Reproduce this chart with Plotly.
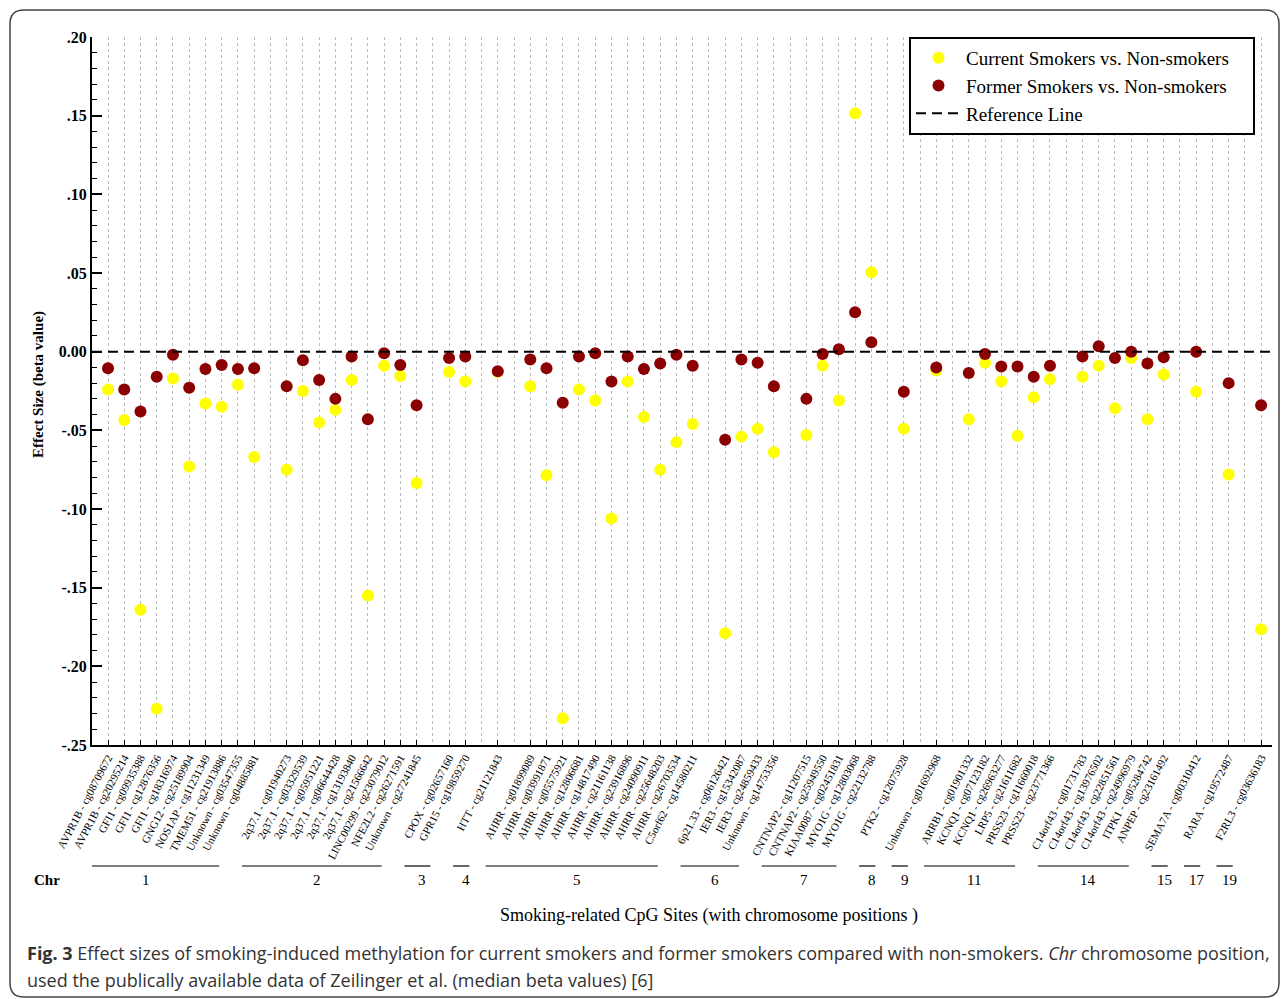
import plotly.graph_objects as go

# ---------------- data ----------------
sites = [
    "AVPR1B - cg08709672", "AVPR1B - cg20295214", "GFI1 - cg09935388", "GFI1 - cg12876356",
    "GFI1 - cg18316974", "GNG12 - cg25189904", "NOS1AP - cg11231349", "TMEM51 - cg21913886",
    "Unknown - cg03547355", "Unknown - cg04885881",
    "2q37.1 - cg01940273", "2q37.1 - cg03329539", "2q37.1 - cg05951221", "2q37.1 - cg06644428",
    "2q37.1 - cg13193840", "2q37.1 - cg21566642", "LINC00299 - cg23079012", "NFE2L2 - cg26271591",
    "Unknown - cg27241845",
    "CPOX - cg02657160", "GPR15 - cg19859270",
    "HTT - cg21121843",
    "AHRR - cg01899089", "AHRR - cg03991871", "AHRR - cg05575921", "AHRR - cg12806681",
    "AHRR - cg14817490", "AHRR - cg21161138", "AHRR - cg23916896", "AHRR - cg24090911",
    "AHRR - cg25648203", "AHRR - cg26703534", "C5orf62 - cg14580211",
    "6p21.33 - cg06126421", "IER3 - cg15342087", "IER3 - cg24859433", "Unknown - cg14753356",
    "CNTNAP2 - cg11207515", "CNTNAP2 - cg25949550", "KIAA0087 - cg02451831",
    "MYO1G - cg12803068", "MYO1G - cg22132788",
    "PTK2 - cg12075928",
    "Unknown - cg01692968",
    "ARRB1 - cg01901332", "KCNQ1 - cg07123182", "KCNQ1 - cg26963277", "LRP5 - cg21611682",
    "PRSS23 - cg11660018", "PRSS23 - cg23771366",
    "C14orf43 - cg01731783", "C14orf43 - cg13976502", "C14orf43 - cg22851561",
    "C14orf43 - cg24996979", "ITPK1 - cg05284742", "ANPEP - cg23161492",
    "SEMA7A - cg00310412",
    "RARA - cg19572487",
    "F2RL3 - cg03636183",
]
chromosomes = (["1"] * 10 + ["2"] * 9 + ["3"] * 2 + ["4"] * 1 + ["5"] * 11 + ["6"] * 4 +
               ["7"] * 5 + ["8"] + ["9"] + ["11"] * 6 + ["14"] * 6 + ["15"] + ["17"] + ["19"])

current = [
    -0.024, -0.0435, -0.164, -0.227, -0.017, -0.073, -0.033, -0.035, -0.021, -0.067,
    -0.075, -0.025, -0.045, -0.037, -0.018, -0.155, -0.009, -0.0155, -0.0835,
    -0.013, -0.019,
    -0.013,
    -0.022, -0.0785, -0.233, -0.024, -0.031, -0.106, -0.019, -0.0415, -0.075, -0.0575, -0.046,
    -0.179, -0.054, -0.049, -0.064,
    -0.053, -0.009, -0.031, 0.1515, 0.0505,
    -0.049,
    -0.012,
    -0.043, -0.007, -0.019, -0.0535, -0.029, -0.0175,
    -0.016, -0.009, -0.036, -0.004, -0.043, -0.0145,
    -0.0255,
    -0.078,
    -0.1765,
]
former = [
    -0.0105, -0.024, -0.038, -0.016, -0.002, -0.023, -0.011, -0.0085, -0.011, -0.0105,
    -0.022, -0.0055, -0.018, -0.030, -0.003, -0.043, -0.001, -0.0085, -0.034,
    -0.004, -0.003,
    -0.0125,
    -0.005, -0.0105, -0.0325, -0.003, -0.001, -0.019, -0.003, -0.011, -0.0075, -0.002, -0.009,
    -0.056, -0.005, -0.007, -0.022,
    -0.030, -0.0015, 0.0015, 0.025, 0.006,
    -0.0255,
    -0.010,
    -0.0135, -0.0015, -0.0095, -0.0095, -0.016, -0.009,
    -0.003, 0.0035, -0.004, 0.000, -0.0075, -0.0035,
    0.000,
    -0.020,
    -0.034,
]
y_tickvals = [0.20, 0.15, 0.10, 0.05, 0.0, -0.05, -0.10, -0.15, -0.20, -0.25]
y_ticktext = [".20", ".15", ".10", ".05", "0.00", "-.05", "-.10", "-.15", "-.20", "-.25"]

# ---------------- positions (one empty slot between chromosomes) ----------------
slots = []
s = 0
for i, c in enumerate(chromosomes):
    if i > 0 and c != chromosomes[i - 1]:
        s += 1
    slots.append(s)
    s += 1

groups = []
for x, c in zip(slots, chromosomes):
    if groups and groups[-1][0] == c:
        groups[-1][2] = x
    else:
        groups.append([c, x, x])

W, H = 1281, 999
L, R, T, B = 92, 1272, 37, 745
pw, ph = R - L, B - T


def px(xp):
    return (xp - L) / pw


def py(yp):
    return (B - yp) / ph


xmin = slots[0] - 0.985
xmax = slots[-1] + 0.67
serif = "Liberation Serif, Times New Roman, serif"
pad = "&nbsp;" * 4

fig = go.Figure()
fig.add_trace(go.Scatter(
    x=slots, y=current, mode="markers", name="Current Smokers vs. Non-smokers" + pad,
    marker=dict(color="#FFFF00", size=12, line=dict(width=0)),
))
fig.add_trace(go.Scatter(
    x=slots, y=former, mode="markers", name="Former Smokers vs. Non-smokers",
    marker=dict(color="#8B0000", size=12, line=dict(width=0)),
))
fig.add_trace(go.Scatter(
    x=[xmin, xmax], y=[0, 0], mode="lines", name="Reference Line",
    line=dict(color="black", width=2, dash="10px,6px"),
))

shapes = []
annotations = []
# chromosome bars and numbers
for c, f, l in groups:
    x0 = f - 2.75
    x1 = max(l - 2.15, f - 1.75)
    shapes.append(dict(type="line", xref="x", yref="paper", x0=x0, x1=x1,
                       y0=py(866), y1=py(866), line=dict(color="black", width=1.2)))
    annotations.append(dict(xref="x", yref="paper", x=(x0 + x1) / 2 + 0.3, y=py(880),
                            text=c, showarrow=False, font=dict(family=serif, size=15, color="black"),
                            xanchor="center", yanchor="middle"))
annotations.append(dict(xref="paper", yref="paper", x=px(47), y=py(880), text="<b>Chr</b>",
                        showarrow=False, font=dict(family=serif, size=15, color="black"),
                        xanchor="center", yanchor="middle"))
annotations.append(dict(xref="paper", yref="paper", x=px(709), y=py(915),
                        text="Smoking-related CpG Sites (with chromosome positions )",
                        showarrow=False, font=dict(family=serif, size=18, color="black"),
                        xanchor="center", yanchor="middle"))
annotations.append(dict(xref="paper", yref="paper", x=px(38), y=py(385),
                        text="<b>Effect Size (beta value)</b>", textangle=-90,
                        showarrow=False, font=dict(family=serif, size=15, color="black"),
                        xanchor="center", yanchor="middle"))
cap_font = "Open Sans, sans-serif"
annotations.append(dict(xref="paper", yref="paper", x=px(25), y=py(953),
                        text="<b>Fig. 3</b> Effect sizes of smoking-induced methylation for current smokers and former smokers compared with non-smokers. <i>Chr</i> chromosome position,",
                        showarrow=False, font=dict(family=cap_font, size=18, color="#333333"),
                        xanchor="left", yanchor="middle"))
annotations.append(dict(xref="paper", yref="paper", x=px(25), y=py(980),
                        text="used the publically available data of Zeilinger et al. (median beta values) [6]",
                        showarrow=False, font=dict(family=cap_font, size=18, color="#333333"),
                        xanchor="left", yanchor="middle"))

# rounded outer frame
x0, y0, x1, y1 = px(10), py(10), px(1279), py(997)
rx, ry = 14 / pw, 14 / ph
path = (f"M {x0+rx},{y0} L {x1-rx},{y0} Q {x1},{y0} {x1},{y0-ry} L {x1},{y1+ry} "
        f"Q {x1},{y1} {x1-rx},{y1} L {x0+rx},{y1} Q {x0},{y1} {x0},{y1+ry} "
        f"L {x0},{y0-ry} Q {x0},{y0} {x0+rx},{y0} Z")
shapes.append(dict(type="path", xref="paper", yref="paper", path=path,
                   line=dict(color="#444444", width=1.5)))

fig.update_layout(
    width=W, height=H,
    margin=dict(l=L, r=W - R, t=T, b=H - B, pad=0),
    paper_bgcolor="white", plot_bgcolor="white",
    showlegend=True,
    legend=dict(x=px(909), y=1.0, xanchor="left", yanchor="top",
                bgcolor="white", bordercolor="black", borderwidth=2,
                font=dict(family=serif, size=19, color="black"),
                itemwidth=45, tracegroupgap=0),
    shapes=shapes, annotations=annotations,
    xaxis=dict(range=[xmin, xmax], tickmode="array", tickvals=slots, ticktext=sites,
               tickangle=-62, tickfont=dict(family=serif, size=11, color="black"),
               ticks="inside", ticklen=5, tickwidth=1, tickcolor="black",
               showline=True, linecolor="black", linewidth=2, mirror=False,
               showgrid=True, gridcolor="#BBBBBB", griddash="dot", gridwidth=1,
               minor=dict(tick0=0, dtick=1, showgrid=True, gridcolor="#BBBBBB",
                          griddash="dot", gridwidth=1, ticklen=0),
               zeroline=False),
    yaxis=dict(range=[-0.25, 0.20], tickmode="array", tickvals=y_tickvals, ticktext=y_ticktext,
               tickfont=dict(family=serif, size=16, color="black", weight="bold"),
               ticks="inside", ticklen=10, tickwidth=1.5, tickcolor="black",
               minor=dict(dtick=0.01, tick0=0, ticks="inside", ticklen=5, tickwidth=1,
                          tickcolor="black", showgrid=False),
               showline=True, linecolor="black", linewidth=2,
               showgrid=False, zeroline=False),
)

fig.write_html("out.html", config={"displayModeBar": False},
               post_script="document.body.style.margin='0';")
